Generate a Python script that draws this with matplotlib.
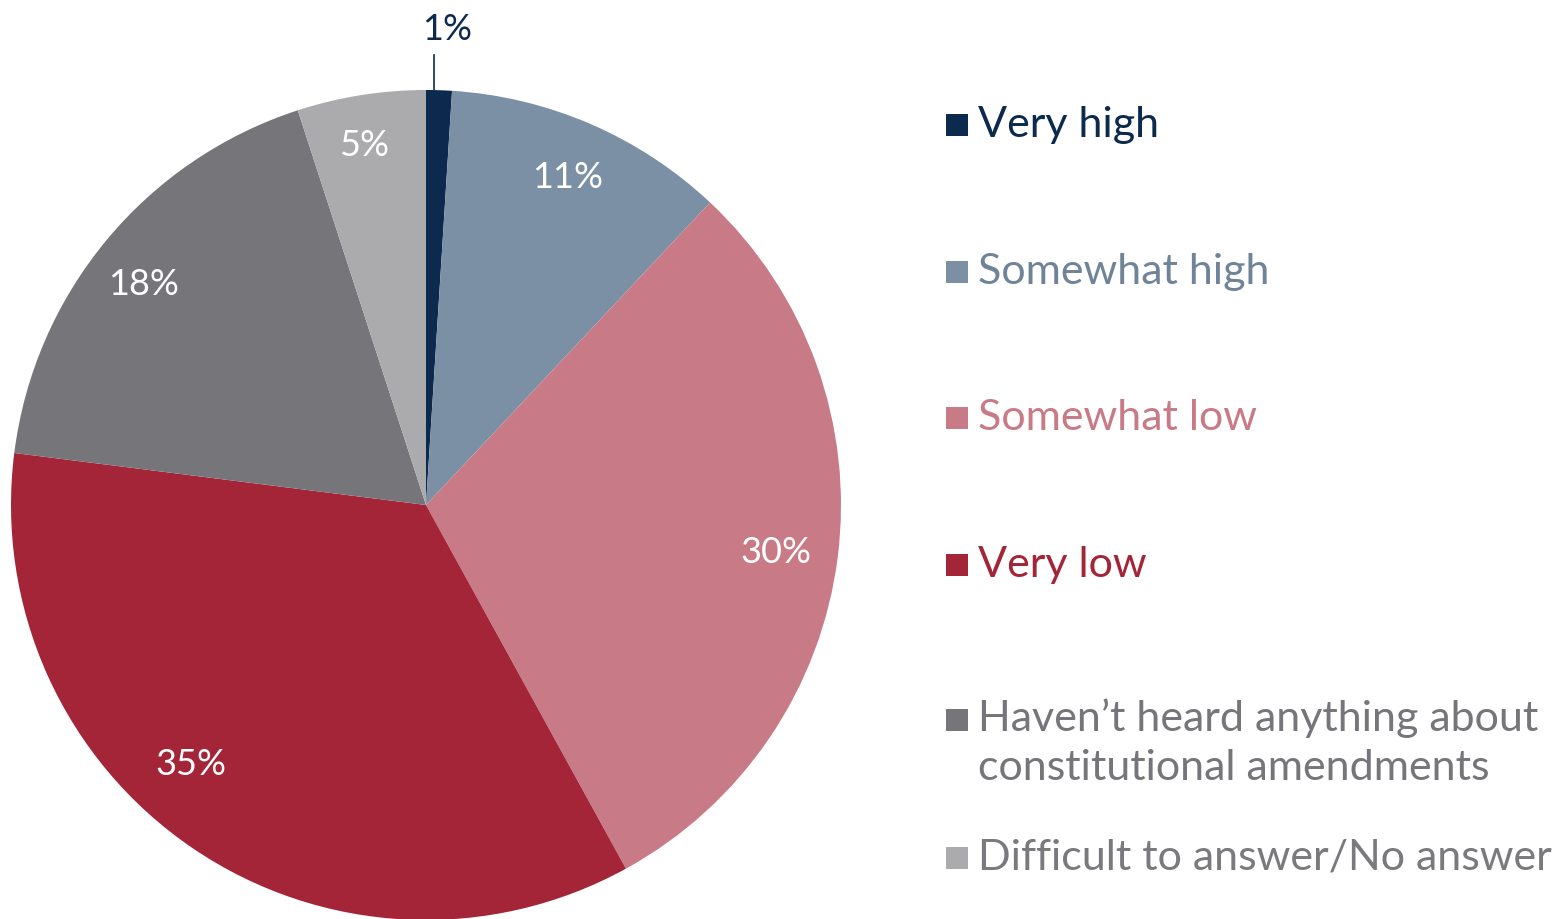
import matplotlib.pyplot as plt
from matplotlib.patches import Rectangle
import numpy as np

labels = ['Very high', 'Somewhat high', 'Somewhat low', 'Very low',
          'Haven\u2019t heard anything about\nconstitutional amendments',
          'Difficult to answer/No answer']
values = [1, 11, 30, 35, 18, 5]
colors = ['#0c2a4d', '#7b90a5', '#c87b86', '#a32537', '#76767a', '#ababad']
text_colors = ['#0c2a4d', '#6f8499', '#c87b86', '#a32537', '#76767a', '#7a7a7e']

plt.rcParams['font.family'] = ['Lato', 'DejaVu Sans']

W, H = 1566, 919
fig = plt.figure(figsize=(W / 100, H / 100), dpi=100)

# pie axes: centre (426, 505) px, radius 415 px
cx, cy, r = 426, 505, 415
ax = fig.add_axes([(cx - r) / W, (H - cy - r) / H, 2 * r / W, 2 * r / H])
wedges, _ = ax.pie(values, colors=colors, startangle=90, counterclock=False,
                   radius=1, wedgeprops=dict(linewidth=0))
ax.set_xlim(-1, 1)
ax.set_ylim(-1, 1)
ax.axis('off')

# label nudges (degrees, radius) similar to excel "best fit"
nudge = [(0, 0), (0, 0.86), (-0.6, 0.851), (-8, 0.845), (1.6, 0.863), (0.8, 0.88)]
for w, v, (da, d) in zip(wedges, values, nudge):
    mid = (w.theta1 + w.theta2) / 2
    ang = np.deg2rad(mid + da)
    if v < 3:
        x = 0.019
        ax.plot([x, x], [1.0, 1.085], color=colors[0], lw=1.2, clip_on=False)
        ax.text(x + 0.032, 1.105, f'{v}%', ha='center', va='bottom',
                fontsize=26, color=colors[0], clip_on=False)
    else:
        ax.text(d * np.cos(ang), d * np.sin(ang), f'{v}%', ha='center',
                va='center', fontsize=26, color='white')

# legend
ys = [125, 272, 418, 565, 720, 858]
for lab, col, tcol, y in zip(labels, colors, text_colors, ys):
    fig.patches.append(Rectangle((946 / W, 1 - (y + 11) / H), 22 / W, 22 / H,
                                 transform=fig.transFigure, facecolor=col,
                                 edgecolor='none'))
    if '\n' in lab:
        fig.text(978 / W, 1 - (y - 22) / H, lab, ha='left', va='top',
                 fontsize=31, color=tcol, linespacing=1.38)
    else:
        fig.text(978 / W, 1 - y / H, lab, ha='left', va='center',
                 fontsize=31, color=tcol)

fig.savefig('out.png', dpi=100)
